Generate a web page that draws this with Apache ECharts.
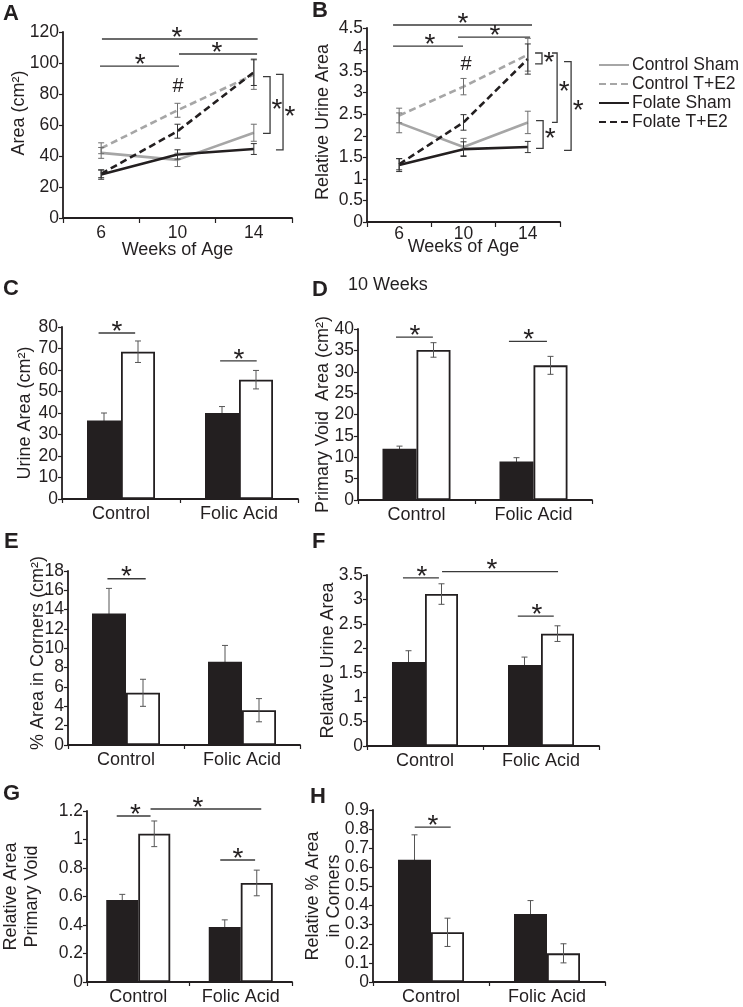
<!DOCTYPE html>
<html>
<head>
<meta charset="utf-8">
<script src="https://cdn.jsdelivr.net/npm/echarts@6/dist/echarts.min.js"></script>
<style>
html,body{margin:0;padding:0;background:#fff}
#main{width:743px;height:1007px}
</style>
</head>
<body>
<div id="main"></div>
<script>
var FONT = '"Liberation Sans", Arial, sans-serif';
var INK = '#231f20';
var GRAY = '#a6a6a6';
var SIG = '#3a3a3a';
var STAR_SIZE = 28;

// A and B: time course
var weeks = [6, 10, 14];
var weekTicks = [4, 8, 12, 16];
var lineNames = ['Control Sham', 'Control T+E2', 'Folate Sham', 'Folate T+E2'];

var areaCS = [42, 37.5, 55];
var areaCT = [45, 69.5, 92.5];
var areaFS = [28, 41, 44.5];
var areaFT = [28.5, 56, 94];
var areaCSErr = [3.5, 4.3, 5.5];
var areaCTErr = [3.5, 4.5, 9.5];
var areaFSErr = [3, 3, 3.5];
var areaFTErr = [2.5, 4.5, 8.5];

var relCS = [2.3, 1.74, 2.31];
var relCT = [2.47, 3.14, 3.88];
var relFS = [1.32, 1.69, 1.74];
var relFT = [1.34, 2.31, 3.78];
var relCSErr = [0.23, 0.2, 0.26];
var relCTErr = [0.17, 0.19, 0.38];
var relFSErr = [0.15, 0.17, 0.13];
var relFTErr = [0.13, 0.18, 0.35];

// significance lines [x0, y, x1, starX], brackets [x0, yTop, x1, yBottom], hash [x, y]
var sigA = [[6.04, 115.5, 14.2, 9.97], [10.08, 105.8, 14.17, 12.07], [5.94, 98, 10.08, 8.04]];
var bracketA = [[14.48, 91.2, 14.85, 54.6], [15.16, 92.7, 15.53, 43.9]];
var hashA = [[10.03, 84.7]];
var sigB = [[5.62, 4.57, 14.26, 9.97], [9.66, 4.29, 14.14, 11.96], [5.62, 4.08, 9.97, 7.92]];
var bracketB = [[14.45, 3.92, 14.88, 3.67], [15.5, 3.92, 15.82, 2.31], [16.25, 3.72, 16.69, 1.66], [14.51, 2.35, 14.95, 1.71]];
var hashB = [[10.16, 3.66]];

// C-H: 10 weeks, sham (black) vs T+E2 (white)
var groups = ['Control', 'Folic Acid'];

var urineSham = [36.5, 40];
var urineTE2 = [68.5, 55.5];
var urineShamErr = [3.5, 3];
var urineTE2Err = [5, 4.3];

var voidSham = [12, 9];
var voidTE2 = [35.1, 31.5];
var voidShamErr = [0.6, 0.9];
var voidTE2Err = [1.7, 2.1];

var cornerSham = [13.6, 8.6];
var cornerTE2 = [5.4, 3.6];
var cornerShamErr = [2.6, 1.7];
var cornerTE2Err = [1.4, 1.2];

var relUrineSham = [1.72, 1.66];
var relUrineTE2 = [3.11, 2.3];
var relUrineShamErr = [0.23, 0.16];
var relUrineTE2Err = [0.21, 0.16];

var relVoidSham = [0.575, 0.386];
var relVoidTE2 = [1.04, 0.695];
var relVoidShamErr = [0.04, 0.05];
var relVoidTE2Err = [0.09, 0.09];

var relCornerSham = [0.64, 0.356];
var relCornerTE2 = [0.26, 0.15];
var relCornerShamErr = [0.13, 0.07];
var relCornerTE2Err = [0.074, 0.05];

// bar significance [category, y, x0, x1, starX] (x in category widths from the category centre)
var sigC = [[0, 77.2, -0.19, 0.12, -0.034], [1, 64.2, -0.16, 0.15, 0]];
var sigD = [[0, 38.1, -0.175, 0.14, -0.013], [1, 37.1, -0.21, 0.115, -0.04]];
var sigE = [[0, 17.2, -0.16, 0.17, 0.004]];
var sigF = [[0, 3.44, -0.19, 0.12, -0.026], [0, 3.57, 0.147, 1.147, 0.578], [1, 2.66, -0.2, 0.11, -0.034]];
var sigG = [[0, 1.165, -0.21, 0.12, -0.028], [0, 1.214, 0.12, 1.2, 0.583], [1, 0.856, -0.2, 0.14, -0.028]];
var sigH = [[0, 0.81, -0.14, 0.17, 0.017]];

var chart = echarts.init(document.getElementById('main'));

// asterisk centred on (x, cy)
function star(x, cy) {
  return {
    type: 'text', x: x, y: cy + 0.18 * STAR_SIZE,
    style: { text: '*', fill: INK, fontSize: STAR_SIZE, fontFamily: FONT, align: 'center', verticalAlign: 'middle' }
  };
}
function hline(x0, x1, y) {
  return { type: 'line', shape: { x1: x0, y1: y, x2: x1, y2: y }, style: { stroke: SIG, lineWidth: 1.3 } };
}

function renderSigLine(params, api) {
  var a = api.coord([api.value(0), api.value(1)]);
  var b = api.coord([api.value(2), api.value(1)]);
  var s = api.coord([api.value(3), api.value(1)]);
  return { type: 'group', children: [hline(a[0], b[0], a[1]), star(s[0], a[1] - 6)] };
}
function renderBracket(params, api) {
  var a = api.coord([api.value(0), api.value(1)]);
  var b = api.coord([api.value(2), api.value(3)]);
  return {
    type: 'group', children: [
      { type: 'polyline', shape: { points: [[a[0], a[1]], [b[0], a[1]], [b[0], b[1]], [a[0], b[1]]] },
        style: { stroke: SIG, lineWidth: 1.3, fill: null } },
      star(b[0] + 7, (a[1] + b[1]) / 2)
    ]
  };
}
function renderHash(params, api) {
  var p = api.coord([api.value(0), api.value(1)]);
  return { type: 'text', x: p[0], y: p[1],
    style: { text: '#', fill: INK, fontSize: 20, fontFamily: FONT, align: 'center', verticalAlign: 'middle' } };
}
function renderSigBar(params, api) {
  var c = api.coord([api.value(0), api.value(1)]);
  var bw = api.size([1, 0])[0];
  return { type: 'group', children: [
    hline(c[0] + api.value(2) * bw, c[0] + api.value(3) * bw, c[1]),
    star(c[0] + api.value(4) * bw, c[1] - 6)
  ] };
}
function errShape(x, yt, yb, color) {
  var st = { stroke: color, lineWidth: 1 };
  return { type: 'group', children: [
    { type: 'line', shape: { x1: x, y1: yt, x2: x, y2: yb }, style: st },
    { type: 'line', shape: { x1: x - 3, y1: yt, x2: x + 3, y2: yt }, style: st },
    { type: 'line', shape: { x1: x - 3, y1: yb, x2: x + 3, y2: yb }, style: st }
  ] };
}
function renderErrLine(color) {
  return function (params, api) {
    var t = api.coord([api.value(0), api.value(1) + api.value(2)]);
    var b = api.coord([api.value(0), api.value(1) - api.value(2)]);
    return errShape(t[0], t[1], b[1], color);
  };
}
function renderErrBar(side, barW) {
  return function (params, api) {
    var t = api.coord([api.value(0), api.value(1) + api.value(2)]);
    var b = api.coord([api.value(0), api.value(1) - api.value(2)]);
    return errShape(t[0] + side * barW / 2, t[1], b[1], '#555');
  };
}

function zip(a, b, c) {
  return a.map(function (v, i) { return c ? [v, b[i], c[i]] : [v, b[i]]; });
}

var grids = [
  { left: 63, top: 32, width: 229, height: 186 },
  { left: 367, top: 28, width: 193, height: 194 },
  { left: 62, top: 327, width: 236, height: 172 },
  { left: 358, top: 329, width: 234, height: 171 },
  { left: 68, top: 571, width: 232, height: 174 },
  { left: 367, top: 575, width: 232, height: 171 },
  { left: 76, top: 811, width: 216, height: 171 },
  { left: 373, top: 810, width: 232, height: 172 }
];

var axisLineStyle = { show: true, lineStyle: { color: INK, width: 1.8 } };
var tickStyle = { show: true, length: 4, lineStyle: { color: INK, width: 1.2 } };

function yAxis(gi, max, interval, name, gap, padTop) {
  return {
    gridIndex: gi, type: 'value', min: 0, max: max, interval: interval,
    axisLine: axisLineStyle, axisTick: tickStyle, splitLine: { show: false },
    axisLabel: { color: INK, fontSize: 17.5, fontFamily: FONT, margin: 4 },
    name: name, nameLocation: 'middle', nameGap: gap, nameMoveOverlap: false,
    nameTextStyle: { color: INK, fontSize: 18, fontFamily: FONT, lineHeight: 21, padding: [0, 0, 0, padTop || 0] }
  };
}
function weekAxis(gi, gap, margin) {
  return {
    gridIndex: gi, type: 'value', min: 4, max: 16,
    axisLine: axisLineStyle,
    axisTick: { show: true, length: 5, lineStyle: { color: INK, width: 1.2 }, customValues: weekTicks },
    axisLabel: { color: INK, fontSize: 17.5, fontFamily: FONT, margin: margin, customValues: weeks },
    splitLine: { show: false },
    name: 'Weeks of Age', nameLocation: 'middle', nameGap: gap, nameMoveOverlap: false,
    nameTextStyle: { color: INK, fontSize: 18, fontFamily: FONT }
  };
}
function groupAxis(gi) {
  return {
    gridIndex: gi, type: 'category', data: groups,
    axisLine: axisLineStyle, axisTick: { show: true, length: 4, interval: 0, lineStyle: { color: INK, width: 1.2 } },
    axisLabel: { color: INK, fontSize: 18, fontFamily: FONT, margin: 6, interval: 0 },
    splitLine: { show: false }
  };
}

var xAxes = [weekAxis(0, 23, 6), weekAxis(1, 16, 3)];
var yAxes = [
  yAxis(0, 120, 20, 'Area (cm²)', 33, 24),
  yAxis(1, 4.5, 0.5, 'Relative Urine Area', 33, 6)
];
var series = [];

var lineStyles = [
  { color: GRAY, type: 'solid' },
  { color: GRAY, type: [7, 4] },
  { color: INK, type: 'solid' },
  { color: INK, type: [7, 4] }
];
var areaMeans = [areaCS, areaCT, areaFS, areaFT];
var areaErrs = [areaCSErr, areaCTErr, areaFSErr, areaFTErr];
var relMeans = [relCS, relCT, relFS, relFT];
var relErrs = [relCSErr, relCTErr, relFSErr, relFTErr];

function addLines(gi, means, errs) {
  lineNames.forEach(function (name, k) {
    var ls = lineStyles[k];
    series.push({
      name: name, type: 'line', xAxisIndex: gi, yAxisIndex: gi,
      data: zip(weeks, means[k]), symbol: 'none', z: 2,
      lineStyle: { color: ls.color, width: 2.6, type: ls.type },
      itemStyle: { color: ls.color }
    });
    series.push({
      type: 'custom', xAxisIndex: gi, yAxisIndex: gi, z: 3,
      renderItem: renderErrLine(k < 2 ? '#6e6e6e' : '#333'),
      data: zip(weeks, means[k], errs[k])
    });
  });
}
addLines(0, areaMeans, areaErrs);
addLines(1, relMeans, relErrs);

function addCustom(gi, render, data) {
  series.push({ type: 'custom', xAxisIndex: gi, yAxisIndex: gi, z: 4, clip: false,
    renderItem: render, encode: { x: 0, y: 1 }, data: data });
}
addCustom(0, renderSigLine, sigA);
addCustom(0, renderBracket, bracketA);
addCustom(0, renderHash, hashA);
addCustom(1, renderSigLine, sigB);
addCustom(1, renderBracket, bracketB);
addCustom(1, renderHash, hashB);

var barPanels = [
  { gi: 2, max: 80, interval: 10, name: 'Urine Area (cm²)', gap: 26, barW: 34,
    sham: urineSham, te2: urineTE2, shamErr: urineShamErr, te2Err: urineTE2Err, sig: sigC },
  { gi: 3, max: 40, interval: 5, name: 'Primary Void  Area (cm²)', gap: 24, barW: 34,
    sham: voidSham, te2: voidTE2, shamErr: voidShamErr, te2Err: voidTE2Err, sig: sigD },
  { gi: 4, max: 18, interval: 2, name: '% Area in Corners (cm²)', gap: 19, barW: 34, pad: 10,
    sham: cornerSham, te2: cornerTE2, shamErr: cornerShamErr, te2Err: cornerTE2Err, sig: sigE },
  { gi: 5, max: 3.5, interval: 0.5, name: 'Relative Urine Area', gap: 28, barW: 33,
    sham: relUrineSham, te2: relUrineTE2, shamErr: relUrineShamErr, te2Err: relUrineTE2Err, sig: sigF },
  { gi: 6, max: 1.2, interval: 0.2, name: 'Relative Area\nPrimary Void', gap: 44, barW: 32,
    sham: relVoidSham, te2: relVoidTE2, shamErr: relVoidShamErr, te2Err: relVoidTE2Err, sig: sigG },
  { gi: 7, max: 0.9, interval: 0.1, name: 'Relative % Area\nin Corners', gap: 28, barW: 33,
    sham: relCornerSham, te2: relCornerTE2, shamErr: relCornerShamErr, te2Err: relCornerTE2Err, sig: sigH }
];

barPanels.forEach(function (p) {
  xAxes.push(groupAxis(p.gi));
  yAxes.push(yAxis(p.gi, p.max, p.interval, p.name, p.gap, p.pad));
  var idx = [0, 1];
  series.push({
    type: 'bar', xAxisIndex: p.gi, yAxisIndex: p.gi, data: p.sham, barWidth: p.barW, barGap: '0%', z: 2,
    itemStyle: { color: INK }
  });
  series.push({
    type: 'bar', xAxisIndex: p.gi, yAxisIndex: p.gi, data: p.te2, barWidth: p.barW, barGap: '0%', z: 2,
    itemStyle: { color: '#fff', borderColor: INK, borderWidth: 1.8 }
  });
  series.push({
    type: 'custom', xAxisIndex: p.gi, yAxisIndex: p.gi, z: 1, renderItem: renderErrBar(-1, p.barW),
    encode: { x: 0, y: 1 }, data: zip(idx, p.sham, p.shamErr)
  });
  series.push({
    type: 'custom', xAxisIndex: p.gi, yAxisIndex: p.gi, z: 3, renderItem: renderErrBar(1, p.barW),
    encode: { x: 0, y: 1 }, data: zip(idx, p.te2, p.te2Err)
  });
  addCustom(p.gi, renderSigBar, p.sig);
});

function letter(t, x, y) {
  return { type: 'text', left: x, top: y, style: { text: t, fill: INK, font: 'bold 22px ' + FONT } };
}

chart.setOption({
  animation: false,
  backgroundColor: '#fff',
  grid: grids,
  xAxis: xAxes,
  yAxis: yAxes,
  legend: {
    data: lineNames, orient: 'vertical', left: 593, top: 51,
    itemWidth: 30, itemHeight: 14, itemGap: 1,
    itemStyle: { opacity: 0 },
    textStyle: { color: INK, fontSize: 17.5, fontFamily: FONT, padding: [0, 0, 0, -2] }
  },
  graphic: [
    letter('A', 3, 3), letter('B', 312, 0), letter('C', 3, 278), letter('D', 312, 279),
    letter('E', 4, 531), letter('F', 312, 531), letter('G', 3, 783), letter('H', 310, 786),
    { type: 'text', left: 348, top: 276, style: { text: '10 Weeks', fill: INK, font: '18px ' + FONT } }
  ],
  series: series
});
</script>
</body>
</html>
